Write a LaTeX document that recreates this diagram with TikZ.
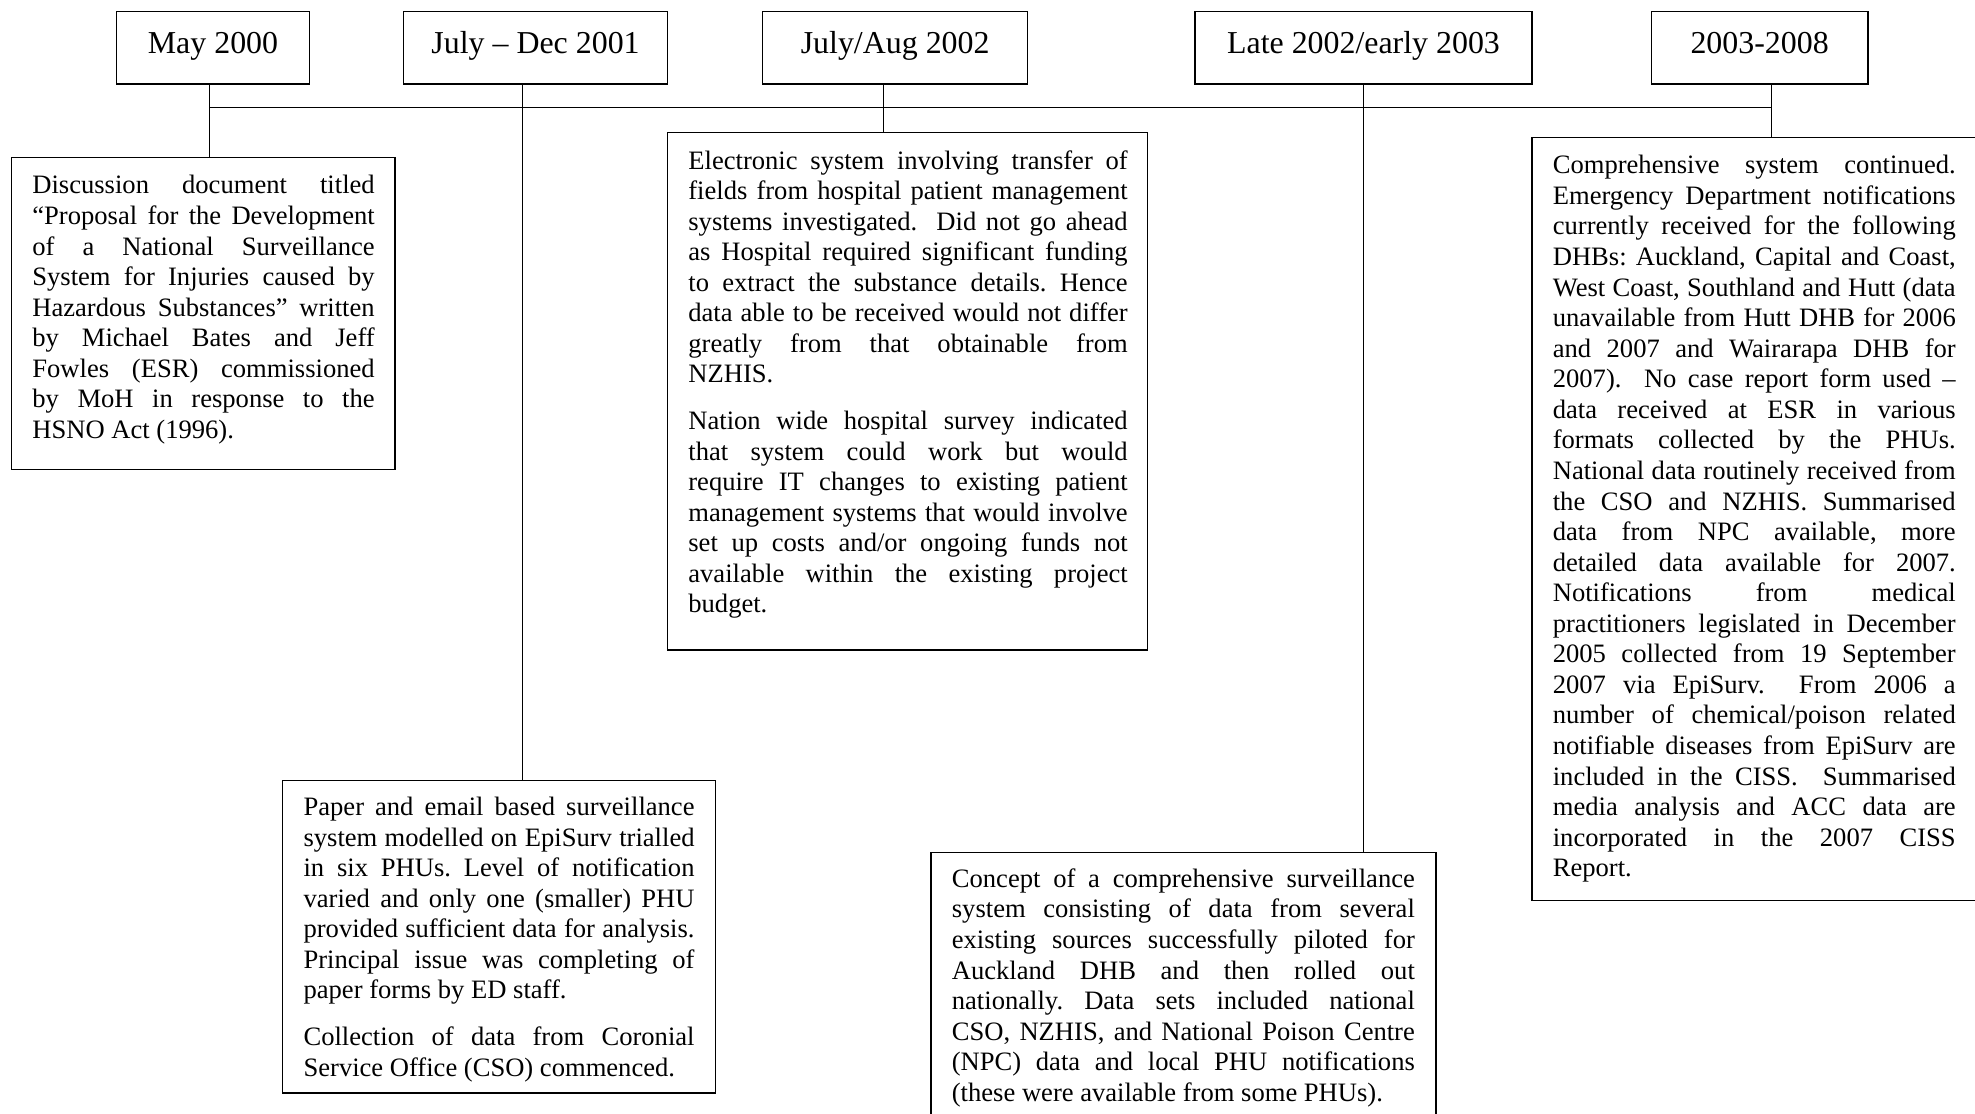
\documentclass[tikz,border=0pt]{standalone}
\usepackage{fontspec}
\setmainfont{Liberation Serif}
\usetikzlibrary{fit}
\newcommand\NL{\linebreak}
\newcommand\pgap{\par\vspace{6pt}}
\newcommand\bodysetup{\frenchspacing\hyphenpenalty=10000\exhyphenpenalty=10000\tolerance=10000\pretolerance=-1\hbadness=10000\relax}
\frenchspacing
\hyphenpenalty=10000
\exhyphenpenalty=10000
\tolerance=10000
\pretolerance=-1
\hbadness=10000
\tikzset{
  box/.style={draw, line width=0.5pt, inner sep=0pt},
  conn/.style={line width=0.5pt},
  ttl/.style={anchor=base, inner sep=0pt, font=\fontsize{12}{14}\selectfont},
  body/.style={anchor=base west, inner sep=0pt, align=justify,
    font=\fontsize{10}{11.5}\selectfont}
}
\begin{document}
\begin{tikzpicture}[x=0.47393pt, y=-0.47393pt]
\useasboundingbox (0,0) rectangle (1568,884.4);
\clip (0,0) rectangle (1568,884.4);

% title boxes
\node[box, fit={(92.6,9.3) (245.6,66.7)}] (tb1) {};
\node[box, fit={(320.2,9.3) (530.1,66.7)}] (tb2) {};
\node[box, fit={(605.5,9.3) (815.9,66.7)}] (tb3) {};
\node[box, fit={(948.7,9.3) (1216.3,66.7)}] (tb4) {};
\node[box, fit={(1311,9.3) (1483,66.7)}] (tb5) {};
\node[ttl] (tt1) at (169.1,42.3) {May 2000};
\node[ttl] (tt2) at (425.2,42.3) {July – Dec 2001};
\node[ttl] (tt3) at (710.7,42.3) {July/Aug 2002};
\node[ttl] (tt4) at (1082.5,42.3) {Late 2002/early 2003};
\node[ttl] (tt5) at (1397,42.3) {2003-2008};

% content boxes
\node[box, fit={(9.3,124.9) (313.6,372.6)}] (b1) {};
\node[box, fit={(224.4,619.5) (567.9,867.7)}] (b2) {};
\node[box, fit={(530.1,105.1) (910.9,516)}] (b3) {};
\node[box, fit={(739,676.7) (1140,895)}] (b4) {};
\node[box, fit={(1216.3,109) (1572,715)}] (b5) {};

% connectors
\coordinate (j1) at (166.5,85.5);
\coordinate (j2) at (414.9,85.5);
\coordinate (j3) at (701.3,85.5);
\coordinate (j4) at (1082.4,85.5);
\coordinate (j5) at (1406.5,85.5);
\draw[conn] (j1) -- (j5);
\draw[conn] (j1 |- tb1.south) -- (j1 |- b1.north);
\draw[conn] (j2 |- tb2.south) -- (j2 |- b2.north);
\draw[conn] (j3 |- tb3.south) -- (j3 |- b3.north);
\draw[conn] (j4 |- tb4.south) -- (j4 |- b4.north);
\draw[conn] (j5 |- tb5.south) -- (j5 |- b5.north);

% texts
\node[body, text width=128.8pt] (x1) at (25.3,154) {\bodysetup Discussion document titled\NL
“Proposal for the Development\NL
of a National Surveillance\NL
System for Injuries caused by\NL
Hazardous Substances” written\NL
by Michael Bates and Jeff\NL
Fowles (ESR) commissioned\NL
by MoH in response to the\NL
HSNO Act (1996).};

\node[body, text width=165.3pt] (x3) at (546.1,134.2) {\bodysetup Electronic system involving transfer of\NL
fields from hospital patient management\NL
systems investigated.\ \ Did not go ahead\NL
as Hospital required significant funding\NL
to extract the substance details. Hence\NL
data able to be received would not differ\NL
greatly from that obtainable from\NL
NZHIS.\pgap
Nation wide hospital survey indicated\NL
that system could work but would\NL
require IT changes to existing patient\NL
management systems that would involve\NL
set up costs and/or ongoing funds not\NL
available within the existing project\NL
budget.};

\node[body, text width=147.1pt] (x2) at (240.6,647.5) {\bodysetup Paper and email based surveillance\NL
system modelled on EpiSurv trialled\NL
in six PHUs. Level of notification\NL
varied and only one (smaller) PHU\NL
provided sufficient data for analysis.\NL
Principal issue was completing of\NL
paper forms by ED staff.\pgap
Collection of data from Coronial\NL
Service Office (CSO) commenced.};

\node[body, text width=174.2pt] (x4) at (755.3,704.5) {\bodysetup Concept of a comprehensive surveillance\NL
system consisting of data from several\NL
existing sources successfully piloted for\NL
Auckland DHB and then rolled out\NL
nationally. Data sets included national\NL
CSO, NZHIS, and National Poison Centre\NL
(NPC) data and local PHU notifications\NL
(these were available from some PHUs).};

\node[body, text width=151.6pt] (x5) at (1232.4,138) {\bodysetup Comprehensive system continued.\NL
Emergency Department notifications\NL
currently received for the following\NL
DHBs: Auckland, Capital and Coast,\NL
West Coast, Southland and Hutt (data\NL
unavailable from Hutt DHB for 2006\NL
and 2007 and Wairarapa DHB for\NL
2007).\ \ No case report form used –\NL
data received at ESR in various\NL
formats collected by the PHUs.\NL
National data routinely received from\NL
the CSO and NZHIS. Summarised\NL
data from NPC available, more\NL
detailed data available for 2007.\NL
Notifications from medical\NL
practitioners legislated in December\NL
2005 collected from 19 September\NL
2007 via EpiSurv.\ \ From 2006 a\NL
number of chemical/poison related\NL
notifiable diseases from EpiSurv are\NL
included in the CISS.\ \ Summarised\NL
media analysis and ACC data are\NL
incorporated in the 2007 CISS\NL
Report.};
\end{tikzpicture}
\end{document}
